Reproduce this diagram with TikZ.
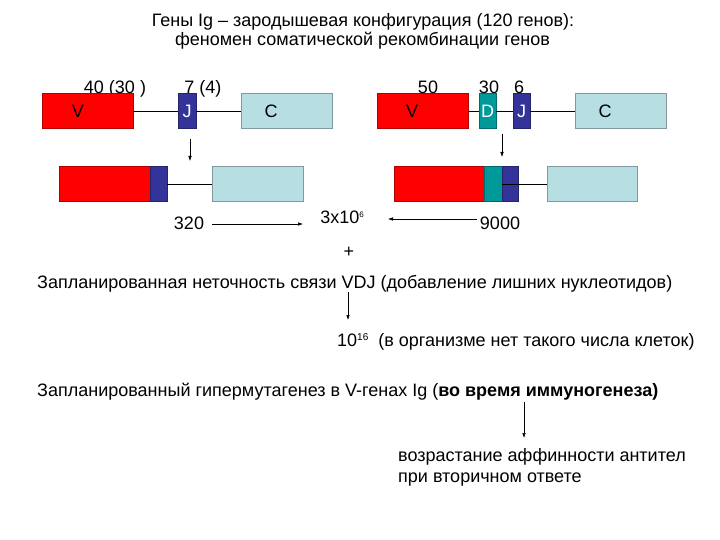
\documentclass[tikz,border=0pt]{standalone}
\usepackage{fontspec}
\setmainfont{Liberation Sans}
\usetikzlibrary{arrows.meta}
\definecolor{vred}{RGB}{255,0,0}
\definecolor{jblue}{RGB}{51,51,153}
\definecolor{dteal}{RGB}{0,153,153}
\definecolor{clight}{RGB}{183,222,227}
\tikzset{
  gene/.style={draw=#1!70!black, line width=0.6pt, minimum height=35, inner sep=0pt, font=\fontsize{18}{20}\selectfont},
  lbl/.style={inner sep=0pt, font=\fontsize{18}{20}\selectfont},
  arr/.style={-{Latex[length=5pt,width=3.5pt]}, line width=0.5pt},
  link/.style={line width=0.6pt}
}
\begin{document}
\begin{tikzpicture}[x=1pt,y=-1pt]
\useasboundingbox[fill=white] (0,0) rectangle (720,540);
% title
\node[lbl, anchor=base] (t1) at (363,27) {Гены Ig – зародышевая конфигурация (120 генов):};
\node[lbl, anchor=base] (t2) at (362.5,45.5) {феномен соматической рекомбинации генов};
% left top row
\node[lbl, anchor=base] (l40) at (115,93.5) {40 (30 )};
\node[lbl, anchor=base] (l7) at (203,93.5) {7 (4)};
\node[gene=vred, fill=vred, minimum width=91] (V1) at (87.5,111) {};
\node[lbl] at (78,111) {V};
\node[gene=jblue, fill=jblue, minimum width=18, text=white] (J1) at (187,111) {J};
\node[gene=clight, fill=clight, minimum width=91] (C1) at (286.5,111) {};
\node[lbl] at (271,111) {C};
\draw[link] (V1.east) -- (J1.west);
\draw[link] (J1.east) -- (C1.west);
\coordinate (a1s) at (190,139);
\coordinate (a1e) at (190,161);
\draw[arr] (a1s) -- (a1e);
% left bottom row
\node[gene=vred, fill=vred, minimum width=91] (V2) at (104.5,184) {};
\node[gene=jblue, fill=jblue, minimum width=17] (J2) at (158.5,184) {};
\node[gene=clight, fill=clight, minimum width=91] (C2) at (257.5,184) {};
\draw[link] (J2.east) -- (C2.west);
% right top row
\node[lbl, anchor=base] (l50) at (428,93.5) {50};
\node[lbl, anchor=base] (l30) at (489,93.5) {30};
\node[lbl, anchor=base] (l6) at (519,93.5) {6};
\node[gene=vred, fill=vred, minimum width=91] (V3) at (422.5,111) {};
\node[lbl] at (412,111) {V};
\node[gene=dteal, fill=dteal, minimum width=17, text=white] (D3) at (487.5,111) {D};
\node[gene=jblue, fill=jblue, minimum width=17, text=white] (J3) at (521.5,111) {J};
\node[gene=clight, fill=clight, minimum width=91] (C3) at (620.5,111) {};
\node[lbl] at (605,111) {C};
\draw[link] (V3.east) -- (D3.west);
\draw[link] (D3.east) -- (J3.west);
\draw[link] (J3.east) -- (C3.west);
\coordinate (a2s) at (502,134);
\coordinate (a2e) at (502,157);
\draw[arr] (a2s) -- (a2e);
% right bottom row
\node[gene=vred, fill=vred, minimum width=90] (V4) at (439,184) {};
\node[gene=dteal, fill=dteal, minimum width=18] (D4) at (493,184) {};
\node[gene=jblue, fill=jblue, minimum width=16] (J4) at (510,184) {};
\node[gene=clight, fill=clight, minimum width=90] (C4) at (592,184) {};
\draw[link] (J4.west) -- (C4.west);
% counts
\node[lbl, anchor=base] (n320) at (189,229.5) {320};
\node[lbl, anchor=base] (n3x) at (342,223.5) {3x10\raisebox{0.6ex}{\fontsize{8}{8}\selectfont 6}};
\node[lbl, anchor=base] (n9000) at (500,229.5) {9000};
\coordinate (p1) at (212,224);
\coordinate (p2) at (303,224);
\coordinate (p3) at (477,219);
\coordinate (p4) at (388,219);
\draw[arr] (p1) -- (p2);
\draw[arr] (p3) -- (p4);
\node[lbl] (plus) at (349,252) {+};
% text lines
\node[lbl, anchor=base west] (s1) at (37,288.5) {Запланированная неточность связи VDJ (добавление лишних нуклеотидов)};
\coordinate (a3s) at (348,292);
\coordinate (a3e) at (348,320);
\draw[arr] (a3s) -- (a3e);
\node[lbl, anchor=base west] (s2) at (337,346.5) {10\raisebox{0.6ex}{\fontsize{10}{10}\selectfont 16}\ \ (в организме нет такого числа клеток)};
\node[lbl, anchor=base west] (s3) at (37,396.5) {Запланированный гипермутагенез в V-генах Ig (\textbf{во время иммуногенеза)}};
\coordinate (a4s) at (524,402);
\coordinate (a4e) at (524,438);
\draw[arr] (a4s) -- (a4e);
\node[lbl, anchor=west] (s4) at (398,457) {возрастание аффинности антител};
\node[lbl, anchor=west] (s5) at (398,480) {при вторичном ответе};
\end{tikzpicture}
\end{document}
